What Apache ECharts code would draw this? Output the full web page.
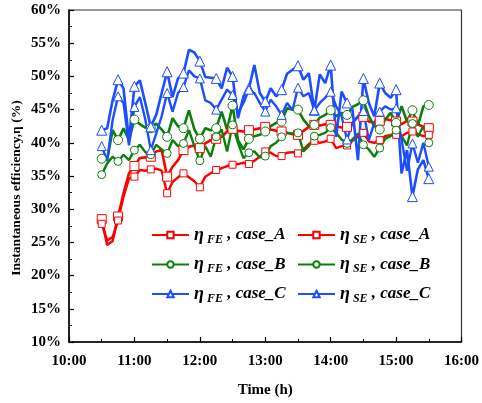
<!DOCTYPE html>
<html>
<head>
<meta charset="utf-8">
<script src="https://cdn.jsdelivr.net/npm/echarts@6/dist/echarts.min.js"></script>
<style>html,body{margin:0;padding:0;background:#fff}#c{width:482px;height:403px}</style>
</head>
<body>
<div id="c"></div>
<script>
// time stamps every 5 minutes from 10:30 to 15:30
var times = ["10:30","10:35","10:40","10:45","10:50","10:55","11:00","11:05","11:10","11:15","11:20","11:25",
"11:30","11:35","11:40","11:45","11:50","11:55","12:00","12:05","12:10","12:15","12:20","12:25",
"12:30","12:35","12:40","12:45","12:50","12:55","13:00","13:05","13:10","13:15","13:20","13:25",
"13:30","13:35","13:40","13:45","13:50","13:55","14:00","14:05","14:10","14:15","14:20","14:25",
"14:30","14:35","14:40","14:45","14:50","14:55","15:00","15:05","15:10","15:15","15:20","15:25","15:30"];

var feA = [28.5,24.6,25.2,28.9,32.4,35.4,36.5,37.7,37.8,37.9,38.7,38.9,
34.9,36.4,37.4,38.9,39.4,39.6,39.2,39.9,40.4,40.6,40.9,41.7,
42.1,41.8,41.7,41.9,42.0,42.2,42.4,42.0,41.8,41.7,41.5,41.3,
41.2,41.8,42.4,42.7,42.6,42.8,42.7,42.5,42.3,42.4,43.0,43.9,
43.9,43.2,43.0,43.3,43.6,43.4,43.2,42.8,43.3,43.2,42.8,42.4,42.2];
var seA = [27.8,25.3,25.8,28.3,31.9,34.6,34.9,35.9,35.8,36.0,36.1,35.8,
32.4,34.1,34.8,35.4,34.8,34.2,33.3,34.9,35.4,35.9,36.2,36.5,
36.7,36.8,37.0,36.8,37.3,37.9,38.7,38.5,38.0,38.0,38.5,38.6,
38.4,39.0,39.8,40.3,40.0,40.2,40.6,39.2,39.5,39.6,40.3,40.9,
41.5,40.2,40.0,40.4,41.0,41.2,41.2,41.0,41.5,41.7,41.3,41.0,41.2];
var feB = [37.6,37.5,41.9,40.4,42.2,40.4,43.5,42.8,42.3,42.2,42.9,42.0,
40.9,43.7,42.5,42.2,44.9,42.0,40.6,42.2,41.9,42.2,44.7,42.0,
45.6,40.4,39.0,40.6,41.0,41.2,41.7,42.5,43.0,43.2,45.2,45.0,
45.0,43.5,42.5,42.7,43.8,44.2,44.9,44.0,44.5,44.2,45.4,45.8,
46.4,44.0,42.5,42.0,43.5,44.5,43.0,45.5,43.2,44.9,42.6,45.5,45.7];
var seB = [35.2,36.9,37.9,37.2,38.2,37.4,38.9,39.7,38.6,38.2,39.7,39.0,
38.4,40.4,39.5,39.9,41.9,39.5,37.3,39.5,37.9,40.9,42.0,38.7,
42.7,40.0,37.7,38.5,38.7,37.8,38.0,39.5,40.0,40.9,41.5,41.4,
41.5,38.7,39.5,41.0,41.2,41.5,42.3,41.5,40.5,39.9,40.5,41.4,
39.7,39.0,37.9,39.2,40.6,41.0,41.9,41.0,39.6,42.9,40.9,42.5,40.0];
var feC = [41.9,42.2,46.4,49.5,48.2,40.4,48.5,49.4,46.0,42.4,44.2,47.5,
50.7,46.9,49.7,50.5,54.0,53.6,52.3,49.9,49.8,49.7,48.2,51.3,
50.0,43.7,47.0,48.2,51.7,47.5,46.2,48.2,47.0,48.0,50.4,51.0,
51.6,49.5,50.5,44.9,50.3,49.0,51.7,40.9,47.7,46.0,45.0,37.4,
49.7,46.0,44.0,49.0,47.5,46.8,48.0,35.4,38.9,31.9,36.0,37.4,34.6];
var seC = [39.5,37.3,43.4,47.0,46.0,39.6,45.4,46.9,43.5,38.9,41.4,44.0,
47.5,44.7,47.5,48.4,50.9,50.0,49.7,46.4,46.0,45.0,46.5,48.0,
47.2,44.5,46.0,48.0,47.5,46.0,44.7,46.5,45.5,44.2,46.0,44.9,
48.3,47.0,47.5,44.9,46.0,46.8,47.7,45.5,44.0,40.5,43.0,44.0,
44.8,40.4,43.0,44.7,45.5,45.0,45.2,40.5,35.8,39.9,37.0,40.0,36.4];

var xTicks = ["10:00","11:00","12:00","13:00","14:00","15:00","16:00"];
var yTicks = [10,15,20,25,30,35,40,45,50,55,60];

function toMin(s){var p=s.split(":");return (+p[0])*60+(+p[1]);}
function build(vals, sym){
  return vals.map(function(v,i){
    return {value:[toMin(times[i]), v], symbol: (i%3===0) ? sym : 'none'};
  });
}
var RED='#ff0000', GREEN='#0a800a', BLUE='#1c4dff';
function mk(name, vals, color, sym, size, width){
  return {
    name:name, type:'line', data:build(vals,sym), symbol:sym, symbolSize:size,
    showAllSymbol:true, animation:false,
    lineStyle:{color:color, width:width},
    itemStyle:{color:'#fff', borderColor:color, borderWidth:1},
    emphasis:{disabled:true}
  };
}
var rich = {
  e:{fontFamily:'Liberation Serif', fontWeight:'bold', fontSize:18, fontStyle:'italic', color:'#000'},
  s:{fontFamily:'Liberation Serif', fontWeight:'bold', fontSize:12, fontStyle:'italic', color:'#000', padding:[9,0,0,3]},
  t:{fontFamily:'Liberation Serif', fontWeight:'bold', fontSize:17, fontStyle:'italic', color:'#000'}
};
function fmt(name){
  var p = name.split('|');
  return '{e|η}{s|'+p[0]+'}{t| , '+p[1]+'}';
}
var names = ['FE|case_A','SE|case_A','FE|case_B','SE|case_B','FE|case_C','SE|case_C'];
var lab = {fontFamily:'Liberation Serif', fontWeight:'bold', fontSize:15, color:'#000'};

var option = {
  animation:false,
  backgroundColor:'#fff',
  grid:{left:69, right:20, top:10, bottom:61, show:true, borderColor:'#333', borderWidth:1.2, backgroundColor:'transparent'},
  graphic:[{
    type:'text', x:17, y:188, rotation:Math.PI/2,
    style:{text:'Instantaneous efficiency,η (%)', fontFamily:'Liberation Serif', fontWeight:'bold', fontSize:13.5,
      fill:'#000', align:'center', verticalAlign:'middle'}
  }],
  xAxis:{
    type:'value', min:600, max:960, interval:60,
    name:'Time (h)', nameLocation:'middle', nameGap:41,
    nameTextStyle:{fontFamily:'Liberation Serif', fontWeight:'bold', fontSize:15, color:'#000'},
    axisLine:{lineStyle:{color:'#000', width:1.5}},
    axisTick:{inside:true, length:5, lineStyle:{color:'#000', width:1.2}},
    minorTick:{show:true, splitNumber:2, length:3, lineStyle:{color:'#000'}},
    splitLine:{show:false},
    axisLabel:Object.assign({margin:12, formatter:function(v){var i=Math.round((v-600)/60);return xTicks[i];}}, lab)
  },
  yAxis:{
    type:'value', min:10, max:60, interval:5,
    axisLine:{show:true, lineStyle:{color:'#000', width:1.5}},
    axisTick:{inside:true, length:5, lineStyle:{color:'#000', width:1.2}},
    minorTick:{show:true, splitNumber:2, length:3, lineStyle:{color:'#000'}},
    splitLine:{show:false},
    axisLabel:Object.assign({margin:8, formatter:function(v){return v+'%';}}, lab)
  },
  legend:[
    {data:[names[0],names[2],names[4]], orient:'vertical', left:146, top:221, itemWidth:37, itemHeight:8, itemGap:10,
     formatter:fmt, textStyle:{rich:rich}, selectedMode:false},
    {data:[names[1],names[3],names[5]], orient:'vertical', left:292, top:221, itemWidth:37, itemHeight:8, itemGap:10,
     formatter:fmt, textStyle:{rich:rich}, selectedMode:false}
  ],
  series:[
    mk(names[0], feA, RED, 'rect', 9, 2.6),
    mk(names[1], seA, RED, 'rect', 7, 2.4),
    mk(names[2], feB, GREEN, 'circle', 9, 2.6),
    mk(names[3], seB, GREEN, 'circle', 8, 2.4),
    mk(names[4], feC, BLUE, 'triangle', 10, 2.6),
    mk(names[5], seC, BLUE, 'triangle', 9, 2.4)
  ]
};
var chart = echarts.init(document.getElementById('c'), null, {renderer:'canvas'});
chart.setOption(option);
</script>
</body>
</html>
